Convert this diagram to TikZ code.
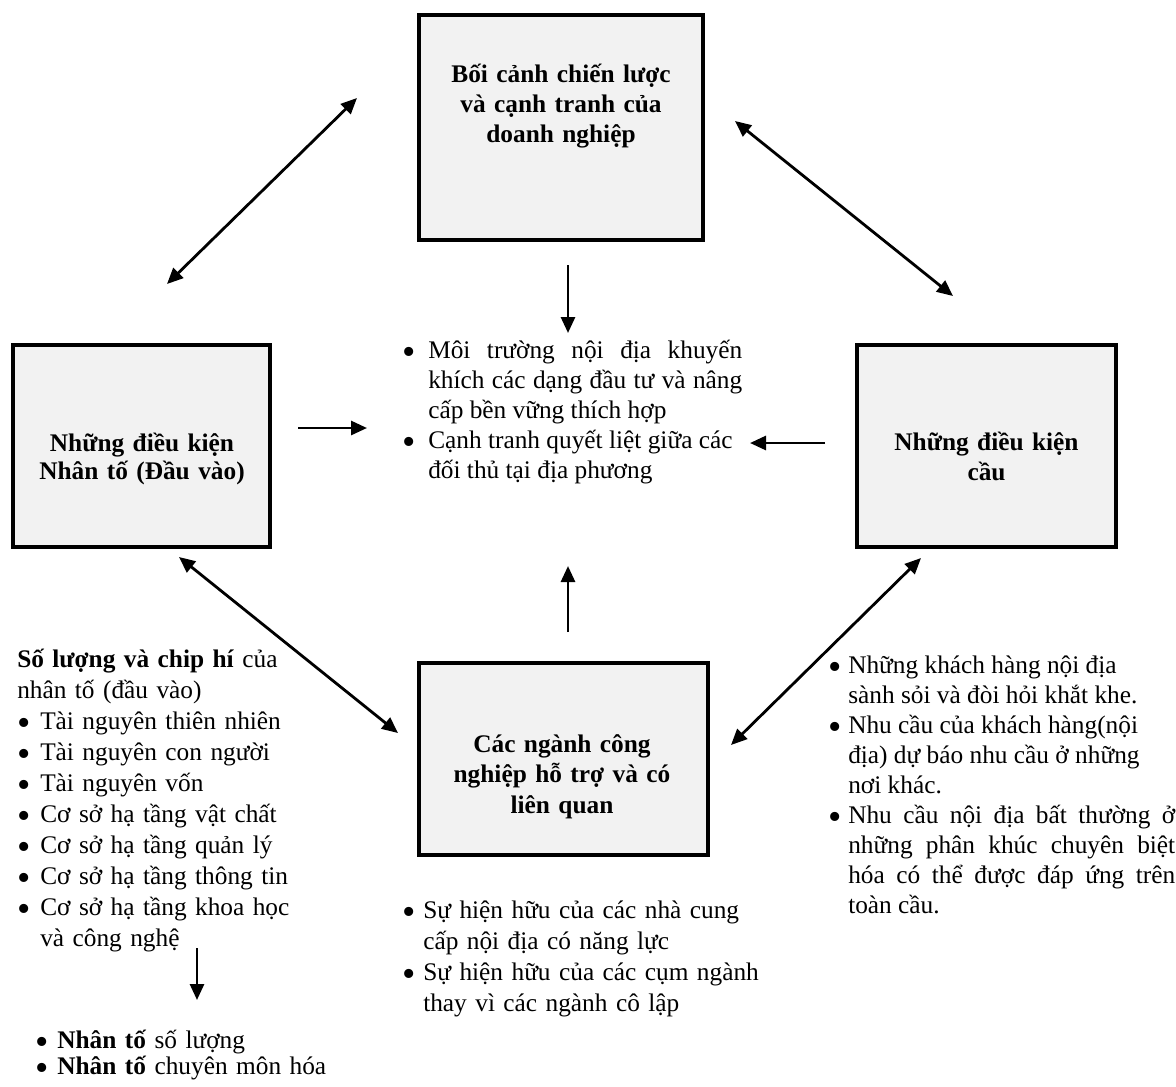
\documentclass[tikz,border=0pt]{standalone}
\usepackage{fontspec}
\usepackage{graphicx}
\setmainfont{Liberation Serif}
\usetikzlibrary{arrows.meta,fit}
\definecolor{boxfill}{HTML}{F2F2F2}
\newcommand\tstrut{\rule{0pt}{20pt}}
\newcommand\bdot{\raisebox{-5pt}{\scalebox{1.5}{\textbullet}}}
\newcommand\bitem[2]{\noindent\hangindent=#1\hangafter=1\makebox[#1][l]{\bdot}#2}
\newcommand\tfont[1]{\fontsize{19pt}{#1}\selectfont\lineskiplimit=-30pt\parskip=0pt}
\tikzset{
  fbox/.style={draw=black, line width=2.3pt, fill=boxfill, inner sep=0pt, outer sep=0pt},
  ttl/.style={inner sep=0pt, align=center, text width=215pt, font=\tfont{22.5pt}\bfseries},
  txt/.style={inner sep=0pt, anchor=north west},
  dbl/.style={line width=2.1pt, {Triangle[length=12pt,width=10.5pt]}-{Triangle[length=12pt,width=10.5pt]}},
  sgl/.style={line width=2.1pt, -{Triangle[length=12pt,width=10.5pt]}}
}
\begin{document}
\begin{tikzpicture}[x=0.75pt,y=-0.75pt]
\useasboundingbox (0,0) rectangle (1176,1086);
% boxes
\node[fbox, fit={(419,15) (703,240)}] (top) {};
\node[fbox, fit={(13,345) (270,547)}] (left) {};
\node[fbox, fit={(857,345) (1116,547)}] (right) {};
\node[fbox, fit={(419,663) (708,855)}] (bottom) {};
% titles
\node[ttl, anchor=north] (ttop) at (561,55.3) {\tstrut Bối cảnh chiến lược\\và cạnh tranh của\\doanh nghiệp};
\node[ttl, anchor=north, font=\tfont{21pt}\bfseries] (tleft) at (142,424.3) {\tstrut Những điều kiện\\Nhân tố (Đầu vào)};
\node[ttl, anchor=north] (tright) at (986.5,423.3) {\tstrut Những điều kiện\\cầu};
\node[ttl, anchor=north, font=\tfont{22.9pt}\bfseries] (tbottom) at (562,725.3) {\tstrut Các ngành công\\nghiệp hỗ trợ và có\\liên quan};
% centre text
\node[txt, text width=255pt, align=justify, font=\tfont{22.5pt}] (center) at (402,331.3) {%
\bitem{19.5pt}{\tstrut Môi trường nội địa khuyến\linebreak khích các dạng đầu tư và nâng\linebreak cấp bền vững thích hợp}\par
\bitem{19.5pt}{Cạnh tranh quyết liệt giữa các\newline đối thủ tại địa phương}\par};
% left text
\node[txt, text width=240pt, align=left, font=\tfont{23.25pt}] (ltxt) at (17,640.3) {%
\noindent\tstrut\textbf{Số lượng và chip hí} của\newline nhân tố (đầu vào)\par
\bitem{17.25pt}{Tài nguyên thiên nhiên}\par
\bitem{17.25pt}{Tài nguyên con người}\par
\bitem{17.25pt}{Tài nguyên vốn}\par
\bitem{17.25pt}{Cơ sở hạ tầng vật chất}\par
\bitem{17.25pt}{Cơ sở hạ tầng quản lý}\par
\bitem{17.25pt}{Cơ sở hạ tầng thông tin}\par
\bitem{17.25pt}{Cơ sở hạ tầng khoa học\newline và công nghệ}\par};
% bottom-left text
\node[txt, text width=240pt, align=left, font=\tfont{19.5pt}] (bltxt) at (35,1021.3) {%
\bitem{16.5pt}{\tstrut\textbf{Nhân tố} số lượng}\par
\bitem{16.5pt}{\textbf{Nhân tố} chuyên môn hóa}\par};
% bottom-centre text
\node[txt, text width=285pt, align=left, font=\tfont{23.25pt}] (bctxt) at (402,891.3) {%
\bitem{15.75pt}{\tstrut Sự hiện hữu của các nhà cung\newline cấp nội địa có năng lực}\par
\bitem{15.75pt}{Sự hiện hữu của các cụm ngành\newline thay vì các ngành cô lập}\par};
% right text
\node[txt, text width=260.25pt, align=justify, font=\tfont{22.5pt}] (rtxt) at (828,646.3) {%
\bitem{15pt}{\tstrut Những khách hàng nội địa\newline sành sỏi và đòi hỏi khắt khe.}\par
\bitem{15pt}{Nhu cầu của khách hàng(nội\newline địa) dự báo nhu cầu ở những\newline nơi khác.}\par
\bitem{15pt}{Nhu cầu nội địa bất thường ở\linebreak những phân khúc chuyên biệt\linebreak hóa có thể được đáp ứng trên\linebreak toàn cầu.}\par};
% arrow end points
\coordinate (d1a) at (167,284); \coordinate (d1b) at (357,98);
\coordinate (d2a) at (735,121); \coordinate (d2b) at (953,296);
\coordinate (d3a) at (179,557); \coordinate (d3b) at (398,733);
\coordinate (d4a) at (921,558); \coordinate (d4b) at (731,745);
\coordinate (s1a) at (568,265); \coordinate (s1b) at (568,333);
\coordinate (s2a) at (298,428); \coordinate (s2b) at (367,428);
\coordinate (s3a) at (825,443); \coordinate (s3b) at (750,443);
\coordinate (s4a) at (568,632); \coordinate (s4b) at (568,566);
\coordinate (s5a) at (197,948); \coordinate (s5b) at (197,1000);
% arrows
\draw[dbl] (d1a) -- (d1b);
\draw[dbl] (d2a) -- (d2b);
\draw[dbl] (d3a) -- (d3b);
\draw[dbl] (d4a) -- (d4b);
\draw[sgl] (s1a) -- (s1b);
\draw[sgl] (s2a) -- (s2b);
\draw[sgl] (s3a) -- (s3b);
\draw[sgl] (s4a) -- (s4b);
\draw[sgl] (s5a) -- (s5b);
\end{tikzpicture}
\end{document}
